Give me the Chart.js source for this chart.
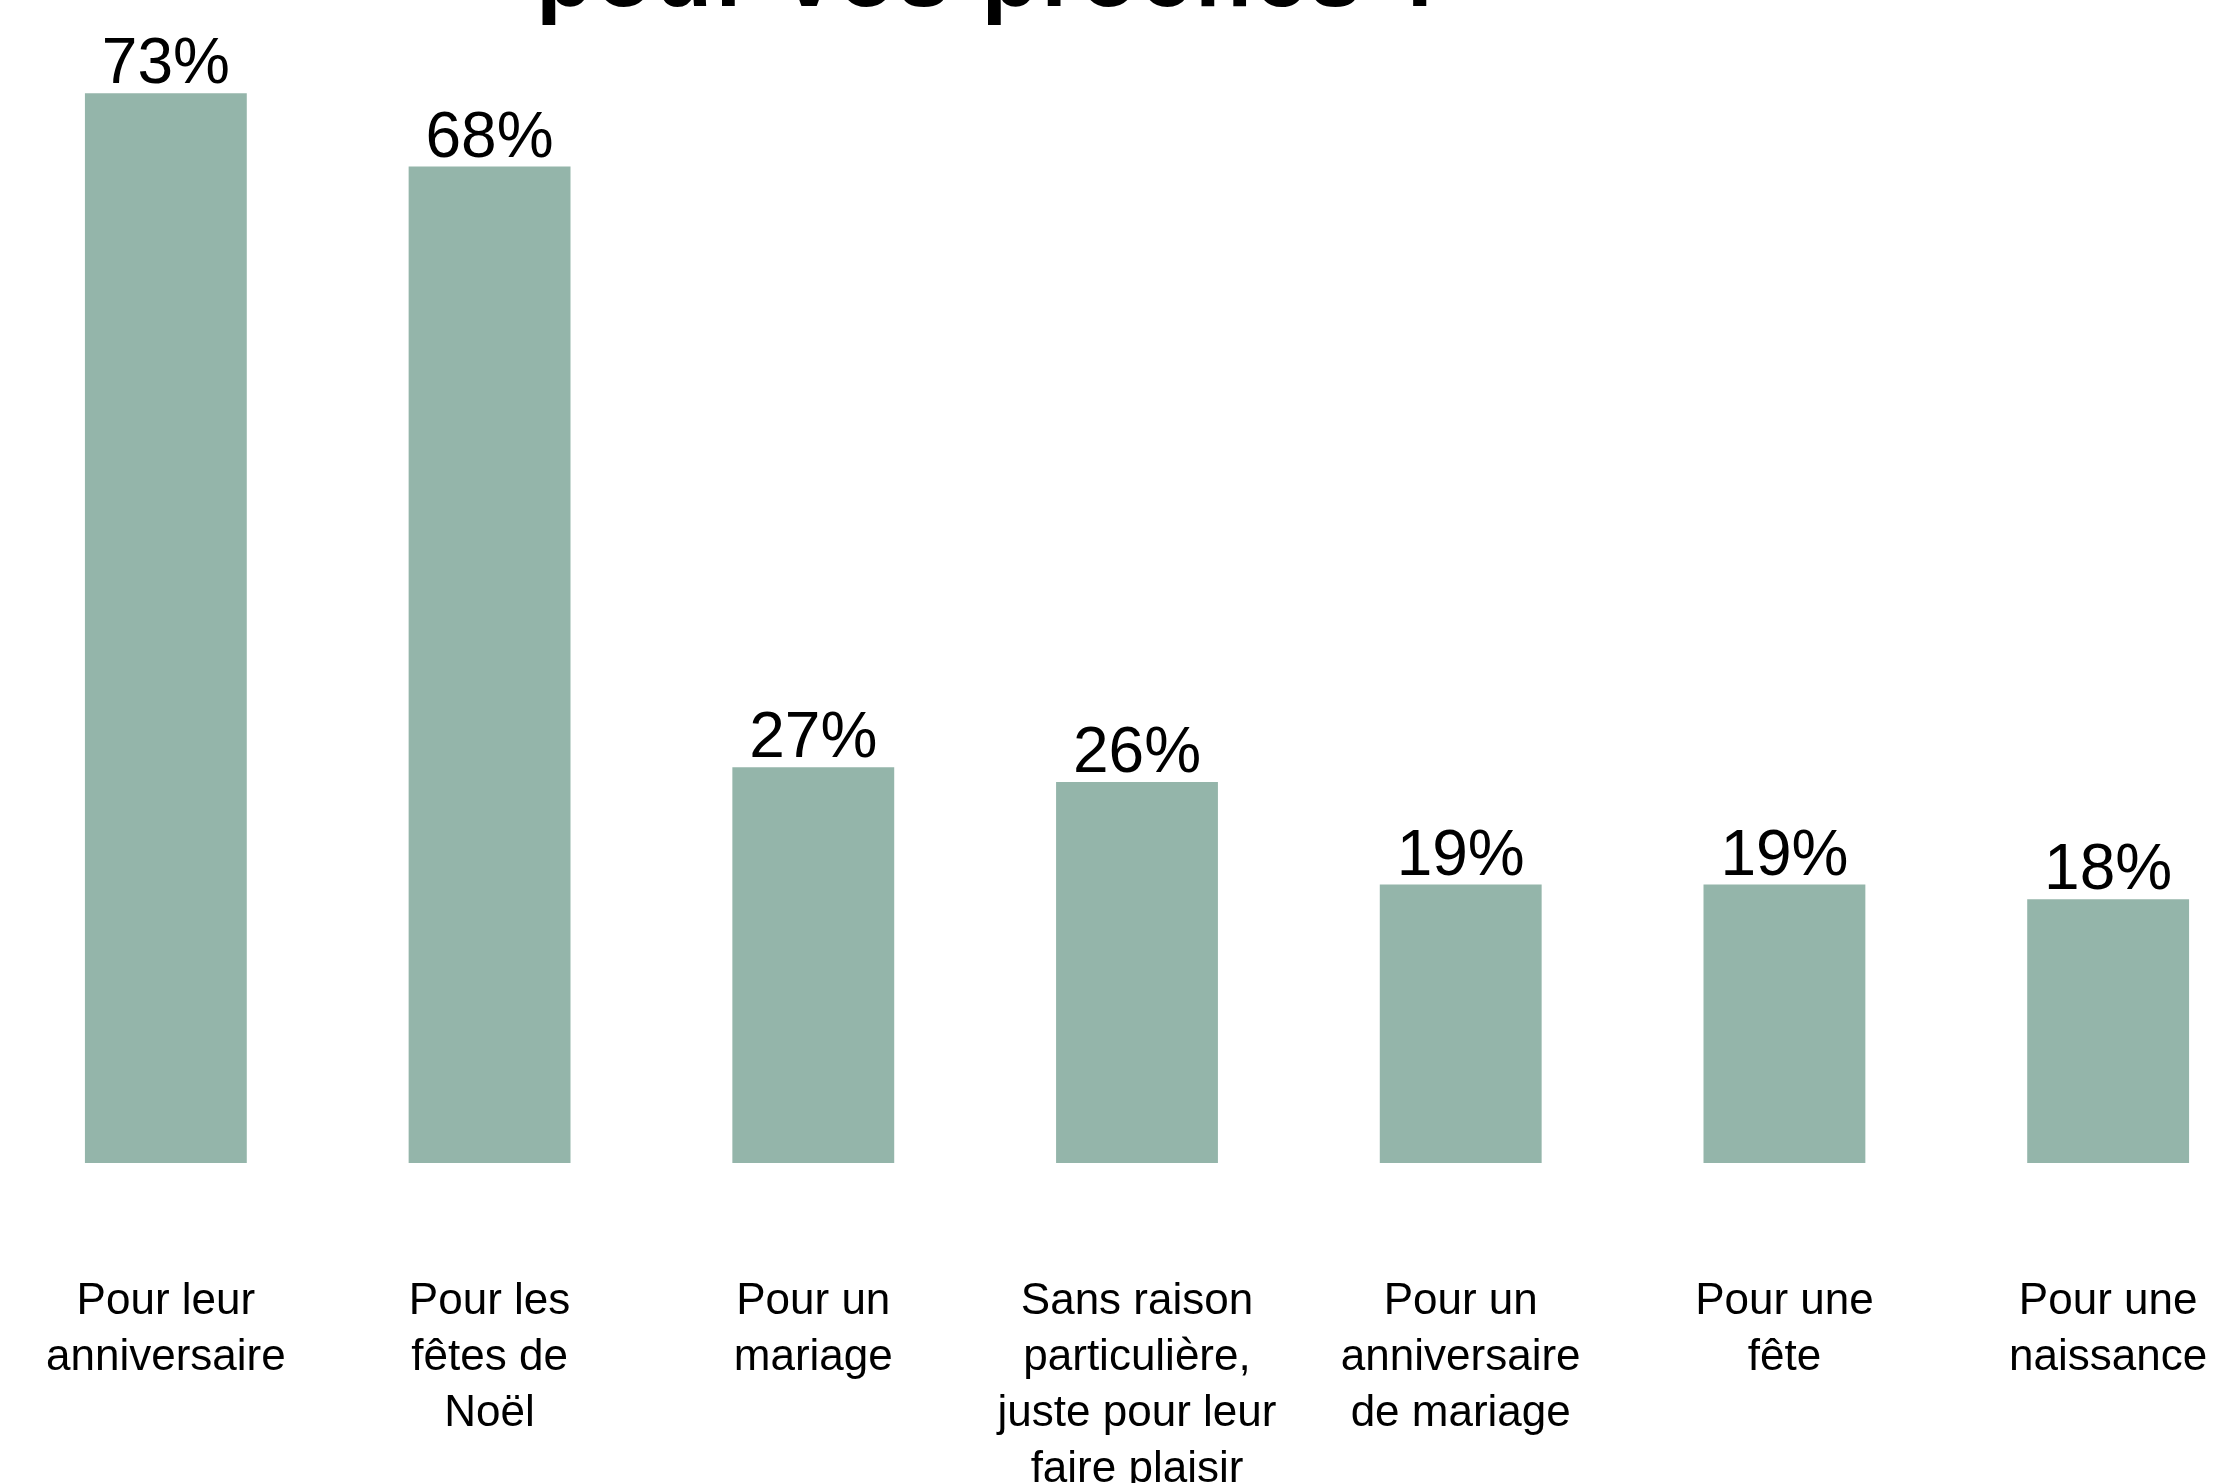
<!DOCTYPE html>
<html lang="fr">
<head>
<meta charset="utf-8">
<title>pour vos proches ?</title>
<script src="https://cdn.jsdelivr.net/npm/chart.js@4"></script>
<style>
    html, body { margin: 0; padding: 0; background: #fff; overflow: hidden; }
    #page { position: relative; width: 2219px; height: 1483px; overflow: hidden; }
    #titre {
        position: absolute; left: 536px; top: -72px; margin: 0;
        font: bold 93px "Liberation Sans", Arial, Helvetica, sans-serif;
        letter-spacing: 3px;
        line-height: 1; color: #000; white-space: nowrap;
    }
    #chart-box { position: absolute; left: 0; top: 0; width: 2274px; height: 1483px; }
</style>
</head>
<body>
<div id="page">
    <div id="chart-box"><canvas id="chart"></canvas></div>
    <h1 id="titre">pour vos proches ?</h1>
</div>
<script>
// catégories (une ligne par élément du tableau)
const categories = [
    ['Pour leur', 'anniversaire'],
    ['Pour les', 'fêtes de', 'Noël'],
    ['Pour un', 'mariage'],
    ['Sans raison', 'particulière,', 'juste pour leur', 'faire plaisir'],
    ['Pour un', 'anniversaire', 'de mariage'],
    ['Pour une', 'fête'],
    ['Pour une', 'naissance']
];
// pourcentages affichés
const values = [73, 68, 27, 26, 19, 19, 18];
const barColor = '#94B5AA';
const fontFamily = '"Liberation Sans", Arial, Helvetica, sans-serif';

// étiquettes de valeur au-dessus des barres
const valueLabelPlugin = {
    id: 'valueLabels',
    afterDatasetsDraw(chart) {
        const ctx = chart.ctx;
        const meta = chart.getDatasetMeta(0);
        ctx.save();
        ctx.font = '64px ' + fontFamily;
        ctx.fillStyle = '#000';
        ctx.textAlign = 'center';
        ctx.textBaseline = 'alphabetic';
        meta.data.forEach((bar, i) => {
            ctx.fillText(values[i] + '%', bar.x, bar.y - 10);
        });
        ctx.restore();
    }
};

new Chart(document.getElementById('chart'), {
    type: 'bar',
    data: {
        labels: categories,
        datasets: [{
            data: values,
            backgroundColor: barColor,
            borderWidth: 0,
            categoryPercentage: 1,
            barPercentage: 0.5
        }]
    },
    options: {
        responsive: true,
        maintainAspectRatio: false,
        animation: false,
        layout: { padding: { top: 20, left: 4, right: 4, bottom: 0 } },
        plugins: {
            legend: { display: false },
            tooltip: { enabled: false },
            title: { display: false }
        },
        scales: {
            x: {
                grid: { display: false },
                border: { display: false },
                ticks: {
                    color: '#000',
                    padding: 103,
                    maxRotation: 0,
                    autoSkip: false,
                    font: { family: fontFamily, size: 44, lineHeight: 1.27 }
                },
                afterFit: scale => {
                    scale.height = 320;
                    // le grand écart sous les barres ne doit pas rétrécir la zone horizontalement
                    scale.paddingLeft = 0;
                    scale.paddingRight = 0;
                }
            },
            y: {
                display: false,
                min: 0,
                max: 78
            }
        }
    },
    plugins: [valueLabelPlugin]
});
</script>
</body>
</html>
